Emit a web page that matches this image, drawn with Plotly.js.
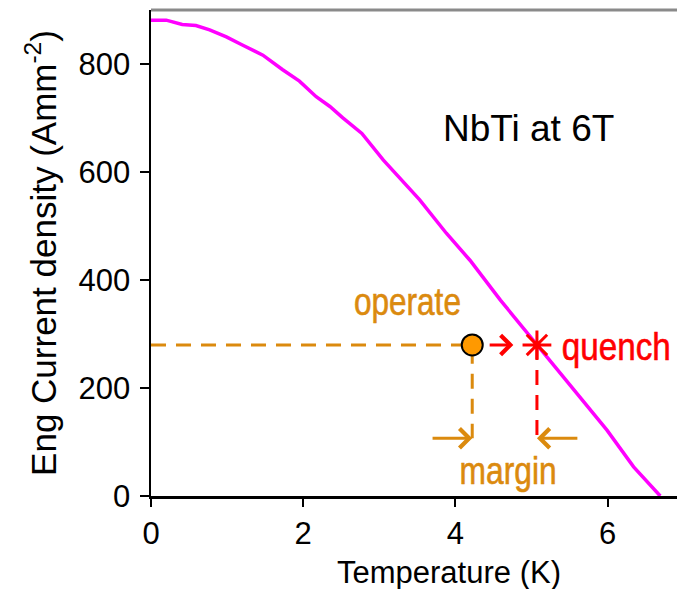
<!DOCTYPE html>
<html>
<head>
<meta charset="utf-8">
<script src="https://cdn.plot.ly/plotly-3.0.1.min.js"></script>
<style>html,body{margin:0;padding:0;background:#fff;}#chart{width:677px;height:589px;}</style>
</head>
<body>
<div id="chart"></div>
<script>
// Critical current curve (NbTi at 6 T)
var temperature = [0, 0.2, 0.41, 0.59, 0.77, 0.99, 1.2, 1.47, 1.73, 1.95, 2.17, 2.35, 2.52, 2.77, 3.05, 3.53, 3.88, 4.19, 4.59, 5.07, 5.99, 6.34, 6.69];
var currentDensity = [882, 882, 874, 872, 864, 851, 836, 817, 790, 769, 740, 722, 701, 672, 623, 549, 487, 437, 363, 280, 122, 54, 0];

// Operating and quench points
var operateT = [4.22];
var operateJ = [280];
var quenchT = [5.07];
var quenchJ = [280];
var marginJ = 107;

// Tick labels
var xTicks = [0, 2, 4, 6];
var yTicks = [0, 200, 400, 600, 800];

var orange = '#DB8A0E';
var red = '#FF0000';
var mainFont = 'Liberation Sans, Arial, Helvetica, sans-serif';

var traces = [
  {x: temperature, y: currentDensity, mode: 'lines', line: {color: '#FF00FF', width: 3.5}, hoverinfo: 'skip'},
  {x: [0, operateT[0], operateT[0]], y: [operateJ[0], operateJ[0], marginJ], mode: 'lines',
   line: {color: orange, width: 3, dash: '15px,10px'}, hoverinfo: 'skip'},
  {x: [quenchT[0], quenchT[0]], y: [quenchJ[0], marginJ], mode: 'lines',
   line: {color: red, width: 3, dash: '15px,10px'}, hoverinfo: 'skip'},
  {x: operateT, y: operateJ, mode: 'markers',
   marker: {symbol: 'circle', size: 21, color: '#FF9900', line: {color: '#000', width: 2}}, hoverinfo: 'skip'},
  {x: quenchT, y: quenchJ, mode: 'markers',
   marker: {symbol: 'asterisk-open', size: 24, color: red, line: {color: red, width: 3}}, hoverinfo: 'skip'}
];

function arrow(x0, x1, y, color) {
  return {x: x1, y: y, ax: x0, ay: y, xref: 'x', yref: 'y', axref: 'x', ayref: 'y',
    showarrow: true, arrowhead: 4, arrowsize: 1.25, arrowwidth: 3, arrowcolor: color, standoff: 0, text: ' '};
}

// narrow labels: target widths in px
var narrowLabels = {'operate': 107, 'quench': 109, 'margin': 97};

var layout = {
  width: 677, height: 589,
  margin: {l: 151, r: 0, t: 10, b: 93},
  paper_bgcolor: '#fff', plot_bgcolor: '#fff',
  showlegend: false,
  font: {family: mainFont, color: '#000', size: 31},
  xaxis: {
    range: [0, 6.91], tickvals: xTicks, ticktext: xTicks.map(String),
    showgrid: false, zeroline: false, showline: true, linecolor: '#000', linewidth: 3,
    ticks: 'outside', ticklen: 8, tickwidth: 2, tickcolor: '#000', ticklabelstandoff: 0,
    tickfont: {size: 31, family: mainFont}
  },
  yaxis: {
    range: [0, 900.8], tickvals: yTicks, ticktext: yTicks.map(String),
    showgrid: false, zeroline: false, showline: true, linecolor: '#000', linewidth: 2.5,
    ticks: 'outside', ticklen: 9, tickwidth: 2, tickcolor: '#000', ticklabelstandoff: 3,
    tickfont: {size: 31, family: mainFont},
    title: {text: 'Eng Current density (Amm<sup>-2</sup>)', font: {size: 35, family: mainFont}, standoff: 12}
  },
  shapes: [
    {type: 'line', xref: 'paper', yref: 'paper', x0: 0, x1: 1, y0: 1, y1: 1, line: {color: '#8A8A8A', width: 3}}
  ],
  annotations: [
    {text: 'Temperature (K)', xref: 'paper', yref: 'paper', x: 0.566, y: 0, yshift: -76, showarrow: false,
     xanchor: 'center', yanchor: 'middle', font: {size: 31, family: mainFont, color: '#000'}},
    {text: 'NbTi at 6T', xref: 'x', yref: 'y', x: 4.96, y: 682, showarrow: false,
     font: {size: 37, family: mainFont, color: '#000'}},
    {text: 'operate', xref: 'x', yref: 'y', x: 3.375, y: 360, showarrow: false,
     font: {size: 38, family: mainFont, color: orange}},
    {text: 'quench', xref: 'x', yref: 'y', x: 6.12, y: 276, showarrow: false,
     font: {size: 38, family: mainFont, color: red}},
    {text: 'margin', xref: 'x', yref: 'y', x: 4.69, y: 46, showarrow: false,
     font: {size: 38, family: mainFont, color: orange}},
    arrow(4.37, 4.76, operateJ[0], red),
    arrow(3.62, operateT[0], marginJ, orange),
    arrow(5.68, quenchT[0], marginJ, orange)
  ]
};

Plotly.newPlot('chart', traces, layout, {staticPlot: true, displayModeBar: false}).then(function (gd) {
  // condense the annotation labels to mimic the narrow typeface of the original
  var texts = gd.querySelectorAll('.annotation-text');
  texts.forEach(function (t) {
    var w = narrowLabels[t.textContent];
    if (w) {
      t.setAttribute('textLength', w);
      t.setAttribute('lengthAdjust', 'spacingAndGlyphs');
      t.setAttribute('stroke', t.style.fill);
      t.setAttribute('stroke-width', '0.6');
    }
  });
});
</script>
</body>
</html>
